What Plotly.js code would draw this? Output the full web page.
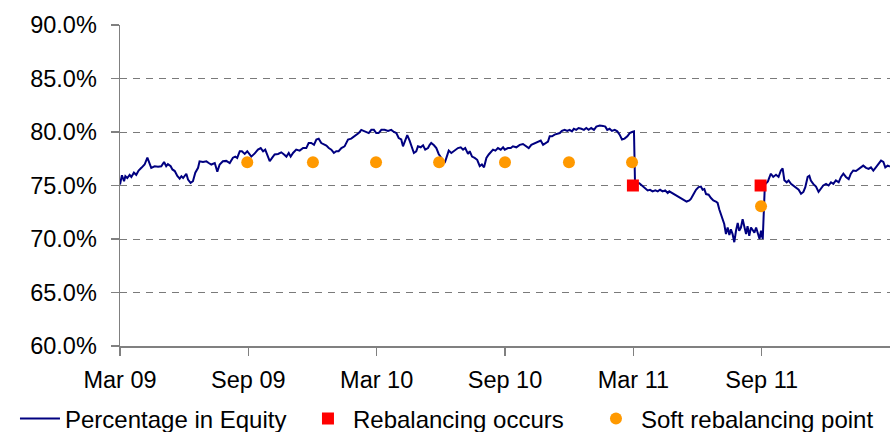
<!DOCTYPE html>
<html><head><meta charset="utf-8">
<script src="https://cdn.plot.ly/plotly-3.0.1.min.js"></script>
<style>html,body{margin:0;padding:0;background:#fff}#chart{width:890px;height:432px}</style>
</head><body><div id="chart"></div>
<script>
// Months since March 2009
const months = [0.00,0.09,0.19,0.25,0.34,0.45,0.53,0.65,0.76,0.87,1.00,1.15,1.28,1.39,1.46,1.62,1.78,1.93,2.06,2.16,2.24,2.37,2.45,2.56,2.68,2.79,2.87,2.95,3.10,3.18,3.30,3.41,3.52,3.65,3.72,3.88,4.04,4.15,4.27,4.43,4.55,4.66,4.81,4.97,5.13,5.28,5.39,5.48,5.60,5.70,5.83,5.95,6.06,6.14,6.30,6.45,6.58,6.69,6.79,6.89,7.00,7.11,7.23,7.39,7.54,7.67,7.78,7.89,7.98,8.09,8.24,8.40,8.56,8.71,8.82,8.94,9.07,9.18,9.29,9.41,9.54,9.65,9.76,9.88,10.00,10.11,10.22,10.35,10.50,10.66,10.81,10.94,11.05,11.16,11.28,11.41,11.51,11.63,11.75,11.87,11.98,12.09,12.22,12.37,12.53,12.68,12.81,12.92,13.03,13.15,13.23,13.34,13.43,13.54,13.65,13.74,13.85,13.93,14.06,14.17,14.27,14.40,14.48,14.55,14.68,14.79,14.90,15.02,15.18,15.26,15.37,15.49,15.61,15.72,15.80,15.93,16.04,16.14,16.27,16.35,16.46,16.58,16.70,16.82,16.92,17.02,17.13,17.24,17.36,17.44,17.55,17.67,17.80,17.91,17.99,18.14,18.27,18.37,18.53,18.69,18.84,19.00,19.11,19.23,19.39,19.54,19.67,19.78,19.88,20.01,20.09,20.20,20.32,20.44,20.56,20.66,20.79,20.91,21.02,21.13,21.22,21.33,21.44,21.57,21.69,21.80,21.91,22.03,22.16,22.27,22.43,22.58,22.69,22.78,22.89,23.00,23.13,23.25,23.36,23.47,23.59,23.72,23.83,23.94,24.03,24.08,24.12,24.28,24.44,24.56,24.67,24.78,24.90,25.03,25.14,25.25,25.37,25.49,25.61,25.68,25.81,25.91,26.02,26.15,26.27,26.38,26.49,26.62,26.69,26.80,26.93,27.05,27.16,27.24,27.32,27.40,27.52,27.63,27.74,27.86,27.94,28.02,28.10,28.18,28.25,28.33,28.41,28.49,28.56,28.64,28.72,28.80,28.88,28.95,29.03,29.11,29.19,29.27,29.34,29.42,29.50,29.58,29.66,29.74,29.82,29.90,29.97,30.05,30.15,30.29,30.33,30.43,30.54,30.67,30.79,30.90,30.98,31.06,31.17,31.26,31.37,31.48,31.60,31.73,31.84,31.95,32.04,32.15,32.23,32.30,32.41,32.54,32.66,32.77,32.88,33.01,33.13,33.24,33.35,33.47,33.60,33.71,33.82,33.94,34.07,34.17,34.28,34.41,34.53,34.64,34.75,34.88,35.00,35.11,35.22,35.34,35.47,35.58,35.69,35.78,35.89,36.00];
const equityPct = [75.1,75.96,75.4,75.87,75.7,76.0,75.8,76.2,76.0,76.4,76.65,76.96,77.6,77.0,76.65,76.8,76.75,76.8,77.2,76.8,77.0,76.8,76.5,76.35,75.9,75.65,75.87,75.7,76.1,75.55,75.25,75.4,76.2,76.65,77.26,77.2,77.26,77.1,76.96,77.1,76.3,76.96,77.26,77.3,77.1,77.6,77.7,77.58,78.2,78.2,77.95,78.2,77.9,77.7,78.0,78.35,78.5,78.2,78.35,77.9,77.27,77.58,77.9,77.95,78.1,77.9,77.7,78.04,77.7,78.04,78.35,78.26,78.5,78.5,78.97,78.97,78.8,79.3,79.38,78.97,78.8,78.73,78.5,78.35,78.04,78.2,78.2,78.5,78.66,79.3,79.38,79.6,79.75,79.9,80.2,80.1,80.06,79.9,80.2,80.2,79.9,79.9,80.2,80.2,80.1,80.2,80.0,79.9,79.44,79.3,78.66,79.3,79.7,79.2,78.66,78.04,78.2,78.66,78.57,78.76,78.35,78.5,78.8,78.97,78.76,78.5,77.95,77.58,77.1,77.58,78.26,78.04,78.2,78.35,78.5,78.57,78.35,78.5,77.95,78.2,77.7,77.58,77.4,76.8,76.96,76.7,77.58,77.9,78.2,78.35,78.26,78.5,78.35,78.57,78.35,78.5,78.5,78.66,78.57,78.8,78.88,78.66,78.5,78.8,78.97,79.1,79.2,78.8,78.97,79.1,79.6,79.6,79.75,79.82,79.9,80.1,80.2,80.1,80.2,80.06,80.3,80.2,80.37,80.3,80.2,80.37,80.2,80.37,80.2,80.5,80.6,80.57,80.5,80.2,80.3,80.1,80.2,80.06,79.75,79.3,79.38,79.6,79.9,80.0,80.06,75.1,75.2,75.2,74.9,74.75,74.54,74.6,74.45,74.54,74.45,74.6,74.45,74.54,74.3,74.45,74.3,74.14,74.05,73.9,73.8,73.6,73.5,73.6,73.74,74.14,74.6,74.85,74.9,74.6,74.66,74.2,74.14,73.83,73.6,73.5,73.37,72.76,72.3,71.84,71.4,70.46,71.07,70.37,70.9,70.46,69.7,70.77,71.5,70.77,71.07,71.84,71.07,70.46,71.2,70.3,71.07,70.77,70.6,71.07,70.46,70.0,70.77,70.0,75.1,75.37,75.6,76.1,75.8,76.0,75.8,76.4,76.6,75.5,75.3,75.47,75.15,75.0,74.85,74.6,74.22,74.4,74.85,75.8,75.9,75.47,75.15,74.9,74.4,74.7,75.0,75.15,75.0,75.3,75.15,75.47,75.3,75.8,76.1,75.8,75.6,76.1,76.4,76.35,76.55,76.7,76.86,76.65,76.55,76.7,76.4,76.7,77.0,77.33,77.2,76.7,76.86,76.77];
const rebalMonths = [23.98, 29.95];
const rebalPct = [75.0, 75.0];
const softMonths = [5.95, 9.02, 11.97, 14.92, 18.0, 20.99, 23.94, 29.97];
const softPct = [77.17, 77.17, 77.17, 77.17, 77.17, 77.17, 77.17, 73.07];
const tickMonths = [0, 6, 12, 18, 24, 30];
const tickLabels = ['Mar 09', 'Sep 09', 'Mar 10', 'Sep 10', 'Mar 11', 'Sep 11'];
const yTicks = [60, 65, 70, 75, 80, 85, 90];
const yTickLabels = ['60.0%', '65.0%', '70.0%', '75.0%', '80.0%', '85.0%', '90.0%'];

const FONT = '"Liberation Sans", Arial, sans-serif';
const traces = [
  {x: months, y: equityPct, type: 'scatter', mode: 'lines', name: 'Percentage in Equity',
   line: {color: '#000080', width: 2}},
  {x: rebalMonths, y: rebalPct, type: 'scatter', mode: 'markers', name: 'Rebalancing occurs',
   marker: {color: '#ff0000', symbol: 'square', size: 12}},
  {x: softMonths, y: softPct, type: 'scatter', mode: 'markers', name: 'Soft rebalancing point',
   marker: {color: '#ff9900', symbol: 'circle', size: 12}}
];
const layout = {
  width: 890, height: 432,
  margin: {l: 120, r: 0, t: 25, b: 86, autoexpand: false},
  paper_bgcolor: '#fff', plot_bgcolor: '#fff',
  font: {family: FONT, color: '#000', size: 23},
  showlegend: true,
  legend: {orientation: 'h', xref: 'paper', yref: 'paper', x: -0.1364, y: -0.2274,
           xanchor: 'left', yanchor: 'middle', font: {size: 24, family: FONT}, itemwidth: 40,
           bgcolor: 'rgba(0,0,0,0)', entrywidth: 233, entrywidthmode: 'pixels'},
  xaxis: {range: [0, 36], tickvals: tickMonths, ticktext: tickLabels, showgrid: false,
          zeroline: false, showline: true, linecolor: '#808080', linewidth: 1.5,
          ticks: 'outside', ticklen: 8, tickcolor: '#808080', tickwidth: 1.5,
          tickfont: {size: 23.5, family: FONT}, ticklabelstandoff: 4},
  yaxis: {range: [60, 90], tickvals: yTicks, ticktext: yTickLabels,
          showgrid: true, gridcolor: '#7a7a7a', gridwidth: 1, griddash: '7px,6px',
          zeroline: false, showline: true, linecolor: '#808080', linewidth: 1.5,
          ticks: 'outside', ticklen: 8, tickcolor: '#808080', tickwidth: 1.5,
          tickfont: {size: 23.5, family: FONT}, ticklabelstandoff: 9}
};
Plotly.newPlot('chart', traces, layout, {displayModeBar: false, staticPlot: true});
</script>
</body></html>
